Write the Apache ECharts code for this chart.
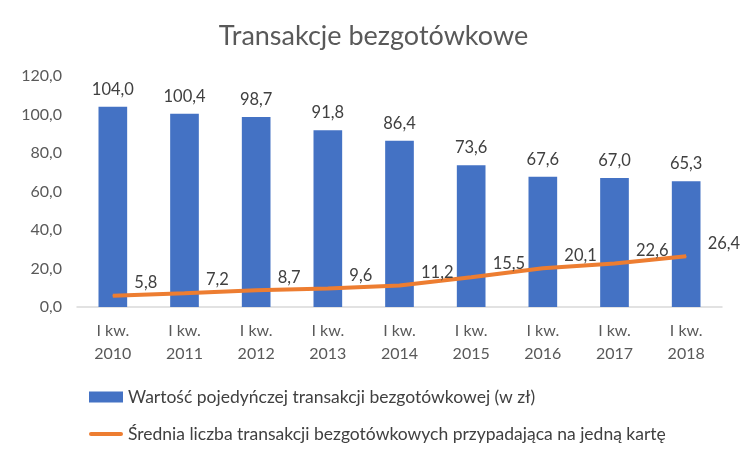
<!DOCTYPE html>
<html><head><meta charset="utf-8">
<script src="https://cdn.jsdelivr.net/npm/echarts@6/dist/echarts.min.js"></script>
<style>html,body{margin:0;padding:0;background:#fff}#c{width:747px;height:457px}</style>
</head><body><div id="c"></div>
<script>
const categories = ['I kw.\n2010','I kw.\n2011','I kw.\n2012','I kw.\n2013','I kw.\n2014','I kw.\n2015','I kw.\n2016','I kw.\n2017','I kw.\n2018'];
const barValues = [104.0, 100.4, 98.7, 91.8, 86.4, 73.6, 67.6, 67.0, 65.3];
const lineValues = [5.8, 7.2, 8.7, 9.6, 11.2, 15.5, 20.1, 22.6, 26.4];
const barName = 'Wartość pojedyńczej transakcji bezgotówkowej (w zł)';
const lineName = 'Średnia liczba transakcji bezgotówkowych przypadająca na jedną kartę';
const FONT = 'Lato';
const fmt = v => v.toFixed(1).replace('.', ',');
const chart = echarts.init(document.getElementById('c'));
chart.setOption({
  animation: false,
  title: { text: 'Transakcje bezgotówkowe', left: 'center', top: 18,
    textStyle: { fontFamily: FONT, fontSize: 27, fontWeight: 'normal', color: '#595959' } },
  legend: {
    orient: 'vertical', left: 84, top: 383, itemGap: 19, itemWidth: 34, itemHeight: 11,
    textStyle: { fontFamily: FONT, fontSize: 17.5, color: '#404040' },
    data: [
      { name: barName, icon: 'rect' },
      { name: lineName, icon: 'path://M2,0 L32,0 A2,2 0 0 1 32,4 L2,4 A2,2 0 0 1 2,0 Z' }
    ]
  },
  grid: { left: 77, right: 25, top: 76, bottom: 150, containLabel: false },
  xAxis: {
    type: 'category', data: categories,
    axisLine: { lineStyle: { color: '#d9d9d9', width: 1.5 } },
    axisTick: { show: false },
    axisLabel: { fontFamily: FONT, fontSize: 16, color: '#595959', lineHeight: 23, margin: 12 }
  },
  yAxis: {
    type: 'value', min: 0, max: 120, interval: 20,
    splitLine: { show: false },
    axisLine: { show: false }, axisTick: { show: false },
    axisLabel: { fontFamily: FONT, fontSize: 16, color: '#595959', margin: 15, formatter: v => fmt(v) }
  },
  series: [
    { name: barName, type: 'bar', data: barValues, barWidth: '40%',
      itemStyle: { color: '#4472C4' },
      label: { show: true, position: 'top', distance: 9, fontFamily: FONT, fontSize: 16.5, color: '#404040', formatter: p => fmt(p.value) } },
    { name: lineName, type: 'line', data: lineValues, symbol: 'circle', symbolSize: 1, showSymbol: true,
      lineStyle: { color: '#ED7D31', width: 4 }, itemStyle: { color: '#ED7D31' },
      label: { show: true, position: 'right', distance: 21, offset: [0, -13], fontFamily: FONT, fontSize: 16.5, color: '#404040', formatter: p => fmt(p.value) } }
  ]
});
</script></body></html>
